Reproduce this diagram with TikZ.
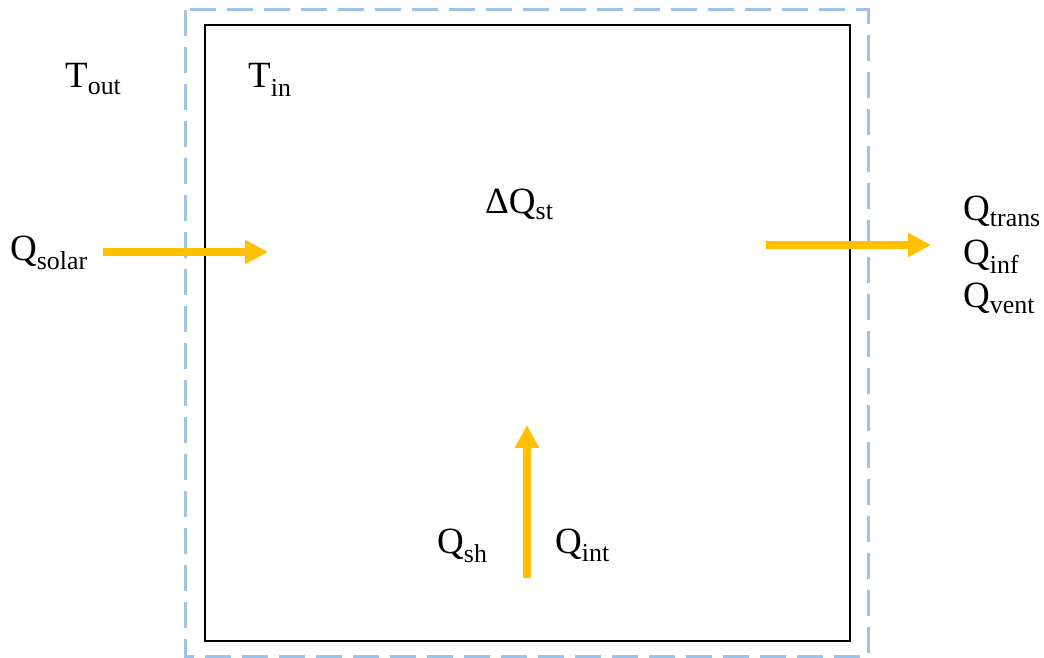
\documentclass[tikz,border=0pt]{standalone}
\usepackage{fontspec}
\setmainfont{Liberation Serif}
\usetikzlibrary{arrows.meta}
\definecolor{flow}{HTML}{FFC000}
\definecolor{bound}{HTML}{9DC3E6}
\tikzset{
  lbl/.style={anchor=base west, inner sep=0pt, font=\fontsize{37}{44}\selectfont},
  flowarrow/.style={draw=flow, line width=7.5pt, -{Triangle[length=23pt,width=23pt]}},
}
\begin{document}
\begin{tikzpicture}[x=1pt,y=-1pt]
\useasboundingbox (0,0) rectangle (1044,658);
% boundary boxes
\draw[bound, line width=3pt, dash pattern=on 26pt off 11pt] (185,10) rectangle (868,656);
\draw[black, line width=2.5pt] (205,25) rectangle (850,641);
% labels
\node[lbl] (tout) at (65,88) {T\textsubscript{out}};
\node[lbl] (tin) at (248,88) {T\textsubscript{in}};
\node[lbl] (dq) at (485,213) {ΔQ\textsubscript{st}};
\node[lbl] (qsolar) at (10,260) {Q\textsubscript{solar}};
\node[lbl] (qtrans) at (963,220) {Q\textsubscript{trans}};
\node[lbl] (qinf) at (963,264) {Q\textsubscript{inf}};
\node[lbl] (qvent) at (963,307) {Q\textsubscript{vent}};
\node[lbl] (qsh) at (437,553) {Q\textsubscript{sh}};
\node[lbl] (qint) at (555,553) {Q\textsubscript{int}};
% arrows
\coordinate (s1) at (103,252);
\coordinate (s2) at (268,252);
\coordinate (o1) at (766,245);
\coordinate (o2) at (931,245);
\coordinate (i1) at (527,578);
\coordinate (i2) at (527,425);
\draw[flowarrow] (s1) -- (s2);
\draw[flowarrow] (o1) -- (o2);
\draw[flowarrow] (i1) -- (i2);
\end{tikzpicture}
\end{document}
